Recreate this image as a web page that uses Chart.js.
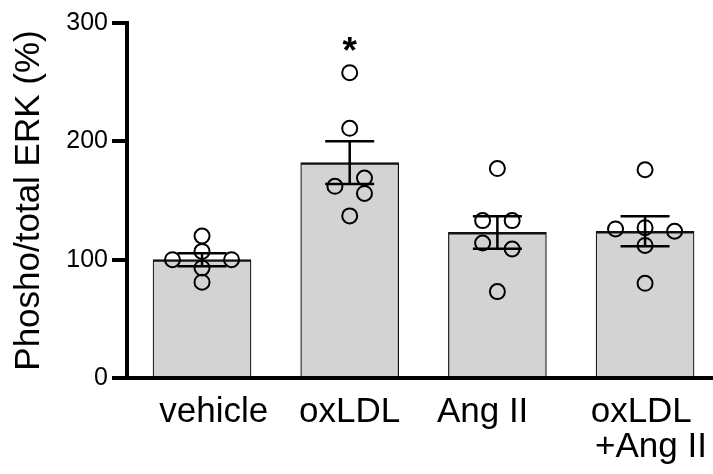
<!DOCTYPE html>
<html>
<head>
<meta charset="utf-8">
<script src="https://cdn.jsdelivr.net/npm/chart.js@4.4.1/dist/chart.umd.min.js"></script>
<style>
  html, body { margin: 0; padding: 0; background: #fff; }
  #wrap { width: 713px; height: 474px; }
</style>
</head>
<body>
<div id="wrap"><canvas id="erkChart"></canvas></div>
<script>
const categories = ['vehicle', 'oxLDL', 'Ang II', ['oxLDL', '+Ang II']];
const means = [100, 182, 123, 124];
const sems = [5.5, 18, 13.7, 12.7];
const vehiclePts = [120, 107, 100, 100, 93, 81];
const oxldlPts = [258, 211, 169, 162, 156, 137];
const angPts = [177, 133, 133, 114, 109, 73];
const comboPts = [176, 126, 127, 124, 112, 80];
const jitter = [
    [0, 0, -0.2, 0.2, 0, 0],
    [0, 0, 0.1, -0.1, 0.1, 0],
    [0, -0.1, 0.1, -0.1, 0.1, 0],
    [0, -0.2, 0, 0.2, 0, 0]
];
const yTicks = [0, 100, 200, 300];
const significance = ['', '*', '', ''];

const groups = [vehiclePts, oxldlPts, angPts, comboPts];
// label nudges, the source figure doesn't center its labels exactly
const labelShift = [0.08, 0, -0.1, 0.04];
const FONT = 'Liberation Sans, Arial, sans-serif';

Chart.defaults.font.family = FONT;
Chart.defaults.color = '#000';

const points = [];
groups.forEach((g, i) => {
    g.forEach((v, j) => points.push({ x: i + jitter[i][j], y: v }));
});

const errorBars = {
    id: 'errorBars',
    afterDatasetsDraw(chart) {
        const { ctx, scales: { x, y } } = chart;
        ctx.save();
        ctx.strokeStyle = '#000';
        ctx.lineWidth = 2.5;
        means.forEach((m, i) => {
            const cx = x.getPixelForValue(i);
            const top = y.getPixelForValue(m + sems[i]);
            const bot = y.getPixelForValue(m - sems[i]);
            ctx.beginPath();
            ctx.moveTo(cx, top); ctx.lineTo(cx, bot);
            ctx.moveTo(cx - 24.5, top); ctx.lineTo(cx + 24.5, top);
            ctx.moveTo(cx - 24.5, bot); ctx.lineTo(cx + 24.5, bot);
            ctx.stroke();
        });
        ctx.fillStyle = '#000';
        ctx.font = 'bold 37px ' + FONT;
        ctx.textAlign = 'center';
        ctx.textBaseline = 'middle';
        significance.forEach((s, i) => {
            if (!s) return;
            const hi = Math.max(...groups[i]);
            ctx.fillText(s, x.getPixelForValue(i), y.getPixelForValue(hi) - 20);
        });
        ctx.restore();
    }
};

new Chart(document.getElementById('erkChart'), {
    type: 'bar',
    data: {
        datasets: [{
            type: 'bar',
            data: means.map((m, i) => ({ x: i, y: m })),
            backgroundColor: '#d3d3d3',
            borderColor: '#111',
            borderWidth: { top: 2.5, left: 1.2, right: 1.2, bottom: 0 },
            borderSkipped: false,
            barThickness: 98,
            order: 2
        }, {
            type: 'scatter',
            data: points,
            pointRadius: 7.5,
            pointHoverRadius: 7.5,
            pointBorderWidth: 2,
            pointBorderColor: '#000',
            pointBackgroundColor: 'rgba(0,0,0,0)',
            order: 1
        }]
    },
    options: {
        responsive: true,
        maintainAspectRatio: false,
        animation: false,
        layout: { autoPadding: false, padding: { top: 23, right: 0, bottom: 0, left: 0 } },
        plugins: { legend: { display: false }, tooltip: { enabled: false } },
        scales: {
            x: {
                type: 'linear',
                min: -0.508,
                max: 3.46,
                offset: false,
                grid: { display: false, drawTicks: false, tickLength: 0 },
                border: { display: true, color: '#000', width: 4 },
                afterBuildTicks: (scale) => {
                    scale.ticks = categories.map((c, i) => ({ value: i + labelShift[i] }));
                },
                afterFit: (scale) => {
                    scale.height = 96;
                    scale.paddingLeft = 0;
                    scale.paddingRight = 0;
                },
                ticks: {
                    autoSkip: false,
                    maxRotation: 0,
                    padding: 17,
                    font: { size: 35, lineHeight: 1 },
                    callback: (v, i) => {
                        const c = categories[i];
                        return Array.isArray(c) ? [c[0] + '  ', c[1]] : c;
                    }
                }
            },
            y: {
                min: 0,
                max: 300,
                afterBuildTicks: (scale) => {
                    scale.ticks = yTicks.map(v => ({ value: v }));
                },
                afterFit: (scale) => {
                    scale.width = 127;
                    scale.paddingTop = 0;
                    scale.paddingBottom = 0;
                },
                grid: {
                    drawOnChartArea: false,
                    drawTicks: true,
                    tickLength: 15,
                    lineWidth: 4,
                    color: '#000'
                },
                border: { display: true, color: '#000', width: 4 },
                ticks: { padding: 4, font: { size: 25 } },
                title: {
                    display: true,
                    text: 'Phosho/total ERK (%)',
                    font: { size: 35 },
                    padding: { top: 8, bottom: 0 }
                }
            }
        }
    },
    plugins: [errorBars]
});
</script>
</body>
</html>
